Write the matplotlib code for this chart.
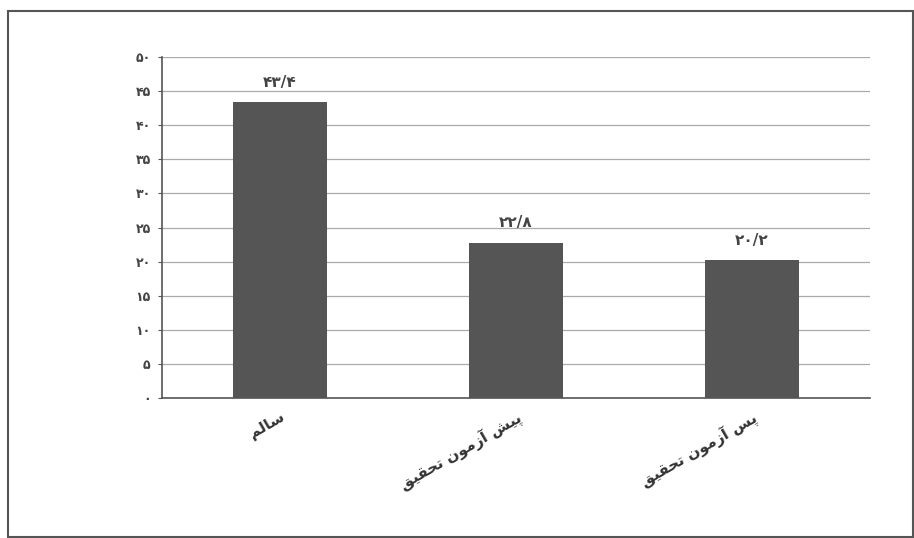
import matplotlib
matplotlib.use("Agg")
import matplotlib.pyplot as plt
from matplotlib.patches import Rectangle

# categories written in visual order with Arabic presentation forms
# (matplotlib does no Arabic shaping): سالم / پیش آزمون تحقیق / پس آزمون تحقیق
cat_salem = "\uFEE2\uFEDF\uFE8E\uFEB3"
cat_pre = "\uFED6\uFBFF\uFED8\uFEA4\uFE97 \uFEE5\uFEEE\uFEE3\uFEAF\uFE81 \uFEB6\uFBFF\uFB58"
cat_post = "\uFED6\uFBFF\uFED8\uFEA4\uFE97 \uFEE5\uFEEE\uFEE3\uFEAF\uFE81 \uFEB2\uFB58"
categories = [cat_salem, cat_pre, cat_post]
values = [43.4, 22.8, 20.2]
value_labels = ["۴۳/۴", "۲۲/۸", "۲۰/۲"]
y_ticks = [0, 5, 10, 15, 20, 25, 30, 35, 40, 45, 50]
y_tick_labels = ["۰", "۵", "۱۰", "۱۵", "۲۰", "۲۵", "۳۰", "۳۵", "۴۰", "۴۵", "۵۰"]

plt.rcParams['font.family'] = ['DejaVu Sans']

fig = plt.figure(figsize=(9.14, 5.38), dpi=100)
# outer chart frame
fig.patches.append(Rectangle((0.009, 0.002), 0.99, 0.978, transform=fig.transFigure,
                             fill=False, edgecolor="#555555", linewidth=1.5))

ax = fig.add_axes([0.177, 0.26, 0.775, 0.634])
x = range(len(values))
ax.bar(x, values, width=0.4, color="#555555", zorder=3)
for xi, v, lab in zip(x, values, value_labels):
    ax.text(xi, v + 1.8, lab, ha="center", va="bottom", fontsize=11,
            fontweight="bold", color="#444444")

ax.set_xlim(-0.5, 2.5)
ax.set_ylim(0, 50)
ax.set_yticks(y_ticks)
ax.set_yticklabels(y_tick_labels, fontsize=9, fontweight="bold", color="#444444")
ax.set_xticks(list(x))
ax.set_xticklabels(categories, rotation=30, ha="right", rotation_mode="anchor",
                   fontsize=11, fontweight="bold", color="#333333")
ax.tick_params(axis="x", length=0, pad=8)
ax.tick_params(axis="y", length=3, color="#555555", pad=5)
ax.grid(axis="y", color="#aaaaaa", linewidth=0.9, zorder=0)
for s in ["top", "right"]:
    ax.spines[s].set_visible(False)
for s in ["left", "bottom"]:
    ax.spines[s].set_color("#555555")
    ax.spines[s].set_linewidth(1.2)

fig.savefig("out.png", dpi=100)
